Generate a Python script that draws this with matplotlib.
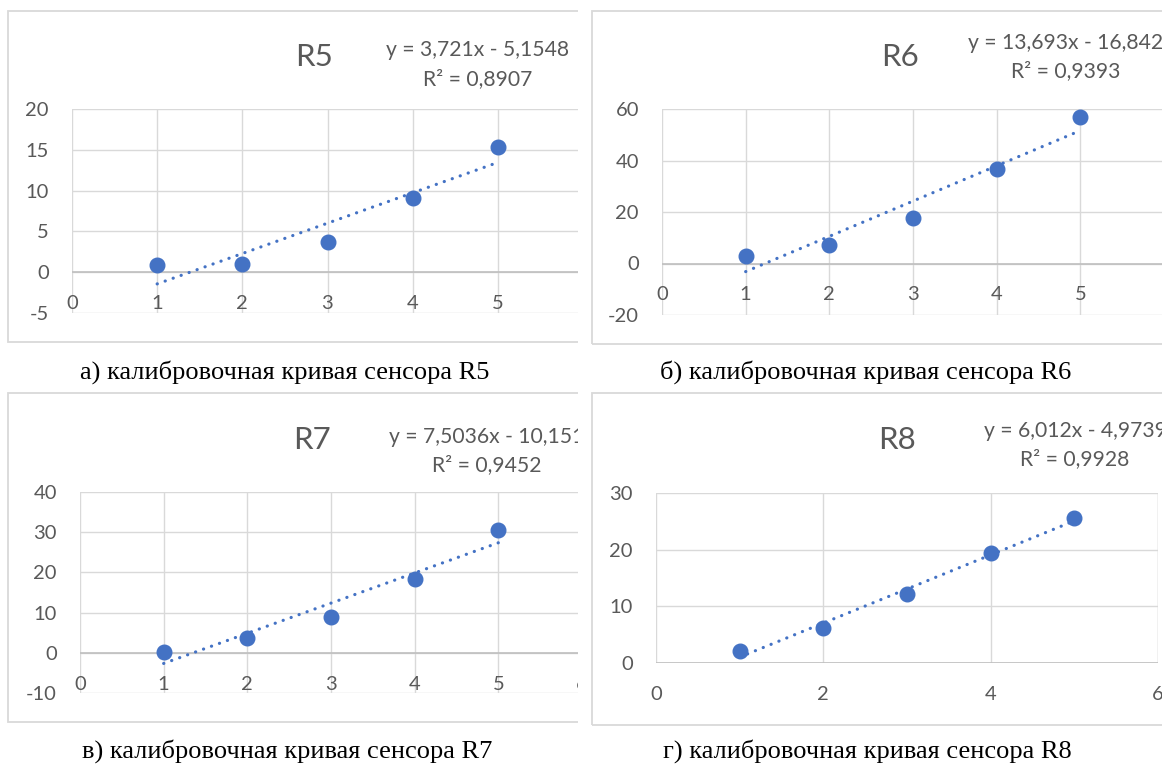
import matplotlib
matplotlib.use("Agg")
import matplotlib.pyplot as plt
from matplotlib.patches import Rectangle
import numpy as np

W, H = 1162, 764
DPI = 100

plt.rcParams["axes.unicode_minus"] = False

# measurement points and sensor responses
x_values = [1, 2, 3, 4, 5]
r5_values = [0.85, 1.05, 3.65, 9.1, 15.4]
r6_values = [3.0, 7.0, 17.7, 36.8, 56.7]
r7_values = [0.25, 3.8, 9.0, 18.4, 30.5]
r8_values = [2.05, 6.2, 12.16, 19.47, 25.55]

sensor_names = ["R5", "R6", "R7", "R8"]
slopes = [3.721, 13.693, 7.5036, 6.012]
intercepts = [-5.1548, -16.842, -10.151, -4.9739]
slope_labels = ["3,721", "13,693", "7,5036", "6,012"]
intercept_labels = ["5,1548", "16,842", "10,151", "4,9739"]
r2_labels = ["0,8907", "0,9393", "0,9452", "0,9928"]
captions = [
    "а) калибровочная кривая сенсора R5",
    "б) калибровочная кривая сенсора R6",
    "в) калибровочная кривая сенсора R7",
    "г) калибровочная кривая сенсора R8",
]
y_limits = [(-5, 20), (-20, 60), (-10, 40), (0, 30)]
y_steps = [5, 20, 10, 10]
x_tick_sets = [[0, 1, 2, 3, 4, 5, 6], [0, 1, 2, 3, 4, 5],
               [0, 1, 2, 3, 4, 5, 6], [0, 2, 4, 6]]

series = [r5_values, r6_values, r7_values, r8_values]

# layout in pixels: plot box (left, top, right, bottom), frame box,
# title baseline, equation centre x and baselines, caption centre
layout = [
    dict(plot=(72, 109, 583, 313), frame=(8, 11, 586, 342),
         title=(314, 66), eq_x=478, eq_y=(56, 85), cap=(285, 372)),
    dict(plot=(662, 109, 1164, 315), frame=(592, 11, 1180, 344),
         title=(900, 66), eq_x=1066, eq_y=(49, 77), cap=(866, 372)),
    dict(plot=(80, 492, 582, 693), frame=(8, 393, 586, 722),
         title=(312, 449), eq_x=487, eq_y=(443, 471), cap=(287, 751)),
    dict(plot=(656, 493, 1158, 663), frame=(592, 393, 1180, 725),
         title=(897, 449), eq_x=1075, eq_y=(437, 465), cap=(867, 751)),
]

BLUE = "#4472C4"
TEXT = "#595959"
GRID = "#D9D9D9"
AXIS = "#BFBFBF"
FONT = "Lato"

fig = plt.figure(figsize=(W / DPI, H / DPI), dpi=DPI)
fig.patch.set_facecolor("white")


def fx(px):
    return px / W


def fy(py):
    return 1 - py / H


def px2pt(p):
    return p * 72 / DPI


for i, lay in enumerate(layout):
    x0, y0, x1, y1 = lay["frame"]
    fig.patches.append(Rectangle((fx(x0), fy(y1)), fx(x1 - x0), (y1 - y0) / H,
                                 transform=fig.transFigure, fill=False,
                                 ec=GRID, lw=1.3, zorder=1))

    l, t, r, b = lay["plot"]
    ax = fig.add_axes([fx(l), fy(b), fx(r - l), (b - t) / H])
    ymin, ymax = y_limits[i]
    ax.set_xlim(0, 6)
    ax.set_ylim(ymin, ymax)
    ax.set_xticks(x_tick_sets[i])
    ax.set_yticks(np.arange(ymin, ymax + 0.1, y_steps[i]))
    ax.grid(True, color=GRID, lw=1.0)
    ax.set_axisbelow(True)
    for s in ax.spines.values():
        s.set_visible(False)
    ax.axhline(0, color=AXIS, lw=1.2, zorder=1)
    ax.axvline(6, color=GRID, lw=1.0, zorder=0)

    zero_px = t + (ymax - 0) / (ymax - ymin) * (b - t)
    label_top = zero_px + 31 - 8
    ax.tick_params(axis="x", length=0, pad=px2pt(label_top - b),
                   labelsize=14.5, labelcolor=TEXT)
    ax.tick_params(axis="y", length=0, pad=px2pt(23),
                   labelsize=14.5, labelcolor=TEXT)
    for lab in ax.get_xticklabels() + ax.get_yticklabels():
        lab.set_fontfamily(FONT)

    xs = np.array(x_values, dtype=float)
    fit = slopes[i] * xs + intercepts[i]
    ax.plot(xs, fit, color=BLUE, lw=2.3,
            linestyle=(0, (0.05, 2.6)), dash_capstyle="round", zorder=3)
    ax.plot(x_values, series[i], linestyle="none", marker="o", ms=10.5,
            color=BLUE, mec=BLUE, zorder=4)

    tx, ty = lay["title"]
    fig.text(fx(tx), fy(ty), sensor_names[i], ha="center", va="baseline",
             fontsize=22.5, color=TEXT, family=FONT)
    fig.text(fx(lay["eq_x"]), fy(lay["eq_y"][0]),
             f"y = {slope_labels[i]}x - {intercept_labels[i]}",
             ha="center", va="baseline", fontsize=15.2, color=TEXT, family=FONT)
    fig.text(fx(lay["eq_x"]), fy(lay["eq_y"][1]),
             f"R² = {r2_labels[i]}",
             ha="center", va="baseline", fontsize=15.2, color=TEXT, family=FONT)

    cx, cy = lay["cap"]
    fig.text(fx(cx), fy(cy), captions[i], ha="center", va="center",
             fontsize=19, color="black", family="Liberation Serif")

# the left charts are trimmed at their right edge
fig.patches.append(Rectangle((fx(578), 0), fx(13), 1, transform=fig.transFigure,
                             fc="white", ec="none", zorder=20))

fig.savefig("out.png", dpi=DPI, facecolor="white")
